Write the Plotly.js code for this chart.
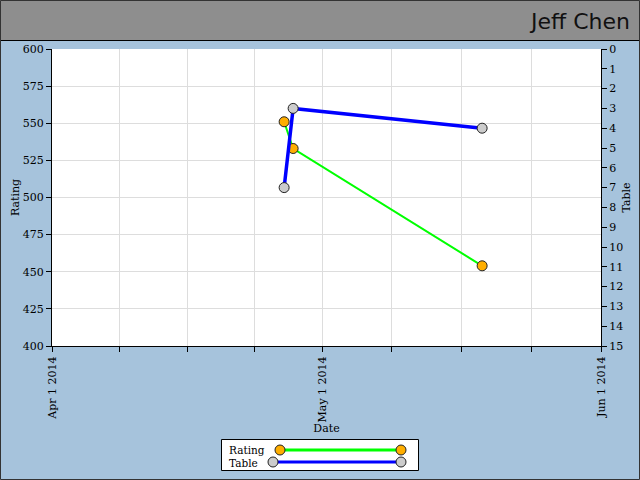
<!DOCTYPE html>
<html>
<head>
<meta charset="utf-8">
<script src="https://cdn.plot.ly/plotly-3.0.1.min.js"></script>
<style>html,body{margin:0;padding:0;background:#a6c3dc;}#chart{width:640px;height:480px;}</style>
</head>
<body>
<div id="chart"></div>
<script>
// Data
var dates = ['2014-04-26 19:00', '2014-04-27 19:00', '2014-05-18 19:00'];
var rating = [551, 533, 454];
var tablePos = [7, 3, 4];
var seriesNames = ['Rating', 'Table'];
var xTickVals = ['2014-04-01', '2014-04-08 12:00', '2014-04-16', '2014-04-23 12:00', '2014-05-01',
                 '2014-05-08 18:00', '2014-05-16 12:00', '2014-05-24 06:00', '2014-06-01'];
var xTickText = ['Apr 1 2014', '', '', '', 'May 1 2014', '', '', '', 'Jun 1 2014'];
var chartTitle = 'Jeff Chen';

var FONT = 'DejaVu Serif, Liberation Serif, serif';
var ratingColor = '#00ff00', tableColor = '#0000ff';
var ratingMarker = '#ffae00', tableMarker = '#cccccc';

// pixel -> paper helpers (plot area 52..601 x, 49..346 y)
var L = 52, R = 601, T = 49, B = 346;
function fx(p) { return (p - L) / (R - L); }
function fy(p) { return (B - p) / (B - T); }

var traces = [
  {x: dates, y: rating, name: seriesNames[0], mode: 'lines', yaxis: 'y',
   line: {color: ratingColor, width: 2}, showlegend: false, hoverinfo: 'skip'},
  {x: dates, y: tablePos, name: seriesNames[1], mode: 'lines', yaxis: 'y2',
   line: {color: tableColor, width: 3.5}, showlegend: false, hoverinfo: 'skip'},
  {x: dates, y: rating, name: seriesNames[0], mode: 'markers', yaxis: 'y',
   marker: {color: ratingMarker, size: 10, line: {color: '#222', width: 1}}, showlegend: false},
  {x: dates, y: tablePos, name: seriesNames[1], mode: 'markers', yaxis: 'y2',
   marker: {color: tableMarker, size: 10, line: {color: '#222', width: 1}}, showlegend: false}
];

function circle(cx, cy, r, fill) {
  return {type: 'circle', xref: 'paper', yref: 'paper',
    x0: fx(cx - r), x1: fx(cx + r), y0: fy(cy + r), y1: fy(cy - r),
    fillcolor: fill, line: {color: '#222', width: 1}};
}

var shapes = [
  // header band
  {type: 'rect', xref: 'paper', yref: 'paper', x0: fx(0), x1: fx(640), y0: fy(40), y1: fy(0),
   fillcolor: '#8e8e8e', line: {width: 0}, layer: 'below'},
  {type: 'line', xref: 'paper', yref: 'paper', x0: fx(0), x1: fx(640), y0: fy(40.5), y1: fy(40.5),
   line: {color: '#000', width: 1}},
  // outer border
  {type: 'rect', xref: 'paper', yref: 'paper', x0: fx(0.5), x1: fx(639.5), y0: fy(479.5), y1: fy(0.5),
   line: {color: '#333', width: 1}},
  // legend box
  {type: 'rect', xref: 'paper', yref: 'paper', x0: fx(221.5), x1: fx(418.5), y0: fy(470.5), y1: fy(439.5),
   fillcolor: '#ffffff', line: {color: '#000', width: 1}},
  {type: 'line', xref: 'paper', yref: 'paper', x0: fx(280), x1: fx(401), y0: fy(450), y1: fy(450),
   line: {color: ratingColor, width: 3}},
  {type: 'line', xref: 'paper', yref: 'paper', x0: fx(273), x1: fx(401), y0: fy(462), y1: fy(462),
   line: {color: tableColor, width: 3}},
  circle(280, 450, 5, ratingMarker), circle(401, 450, 5, ratingMarker),
  circle(273, 462, 5, tableMarker), circle(401, 462, 5, tableMarker)
];

var annotations = [
  {xref: 'paper', yref: 'paper', x: fx(228), y: fy(449.5), xanchor: 'left', yanchor: 'middle',
   text: seriesNames[0], showarrow: false, borderpad: 0, font: {family: FONT, size: 10.5, color: '#000'}},
  {xref: 'paper', yref: 'paper', x: fx(228), y: fy(462.5), xanchor: 'left', yanchor: 'middle',
   text: seriesNames[1], showarrow: false, borderpad: 0, font: {family: FONT, size: 10.5, color: '#000'}}
];

var layout = {
  width: 640, height: 480,
  margin: {l: L, r: 640 - R, t: T, b: 480 - B, pad: 0},
  paper_bgcolor: '#a6c3dc', plot_bgcolor: '#ffffff',
  font: {family: FONT, size: 11, color: '#000'},
  title: {text: chartTitle, xref: 'container', x: 630 / 640, xanchor: 'right',
          yref: 'container', y: 1 - 21 / 480, yanchor: 'middle',
          font: {family: 'DejaVu Sans, sans-serif', size: 22, color: '#111'}},
  showlegend: false,
  xaxis: {
    type: 'date', range: ['2014-04-01', '2014-06-01'],
    tickmode: 'array', tickvals: xTickVals, ticktext: xTickText, tickangle: -90,
    ticks: 'outside', ticklen: 5, tickcolor: '#000', showline: true, linecolor: '#000', linewidth: 1,
    showgrid: true, gridcolor: '#dddddd', zeroline: false,
    title: {text: 'Date', font: {family: FONT, size: 11}, standoff: 0},
    tickfont: {family: FONT, size: 11}, automargin: false
  },
  yaxis: {
    range: [400, 600], dtick: 25, tick0: 400,
    ticks: 'outside', ticklen: 5, tickcolor: '#000', showline: true, linecolor: '#000', linewidth: 1,
    showgrid: true, gridcolor: '#dddddd', zeroline: false,
    title: {text: 'Rating', font: {family: FONT, size: 11}, standoff: 0},
    tickfont: {family: FONT, size: 11}, automargin: false
  },
  yaxis2: {
    overlaying: 'y', side: 'right', range: [15, 0], dtick: 1, tick0: 0,
    ticks: 'outside', ticklen: 5, tickcolor: '#000', showline: true, linecolor: '#000', linewidth: 1,
    showgrid: false, zeroline: false,
    title: {text: 'Table', font: {family: FONT, size: 11}, standoff: 0},
    tickfont: {family: FONT, size: 11}, automargin: false
  },
  shapes: shapes,
  annotations: annotations
};

Plotly.newPlot('chart', traces, layout, {displayModeBar: false, staticPlot: true});
</script>
</body>
</html>
